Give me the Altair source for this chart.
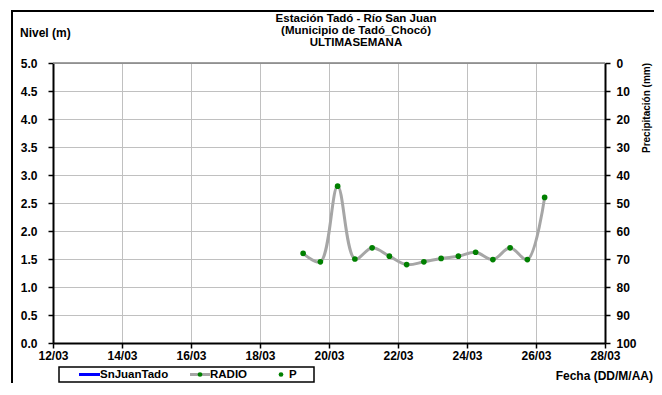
import altair as alt
import pandas as pd

# ---- data ----
fechas = ["2024-03-19T06:00", "2024-03-19T18:00", "2024-03-20T06:00", "2024-03-20T18:00",
          "2024-03-21T06:00", "2024-03-21T18:00", "2024-03-22T06:00", "2024-03-22T18:00",
          "2024-03-23T06:00", "2024-03-23T18:00", "2024-03-24T06:00", "2024-03-24T18:00",
          "2024-03-25T06:00", "2024-03-25T18:00", "2024-03-26T06:00"]
nivel = [1.60, 1.45, 2.80, 1.50, 1.70, 1.55, 1.40, 1.45, 1.51, 1.55, 1.62, 1.49, 1.70, 1.49, 2.60]

y_ticks = [0.0, 0.5, 1.0, 1.5, 2.0, 2.5, 3.0, 3.5, 4.0, 4.5, 5.0]
p_ticks = [0, 10, 20, 30, 40, 50, 60, 70, 80, 90, 100]
x_tick_days = [12, 14, 16, 18, 20, 22, 24, 26, 28]

title_lines = ["Estación Tadó - Río San Juan", "(Municipio de Tadó_Chocó)", "ULTIMASEMANA"]
y_title = "Nivel (m)"
x_title = "Fecha (DD/M/AA)"
p_title = "Precipitación (mm)"
legend_labels = ["SnJuanTado", "RADIO", "P"]

FONT = "Liberation Sans"
W, H = 552, 280

df = pd.DataFrame({"fecha": fechas, "nivel": nivel})
one = pd.DataFrame({"a": [0]})

x_vals = [alt.DateTime(year=2024, month=3, date=d) for d in x_tick_days]
x_dom = [x_vals[0], x_vals[-1]]

x_enc = alt.X("fecha:T", scale=alt.Scale(domain=x_dom),
              axis=alt.Axis(values=x_vals, format="%d/%m", title=None, grid=True,
                            gridColor="#c0c0c0", labelPadding=2, labelFlush=False,
                            labelOverlap=False))
y_enc = alt.Y("nivel:Q", scale=alt.Scale(domain=[0, 5]),
              axis=alt.Axis(values=y_ticks, format=".1f", title=None, grid=True,
                            gridColor="#c0c0c0", labelPadding=11, labelOverlap=False,
                            labelFlush=False))

base = alt.Chart(df)
line = base.mark_line(color="#a6a6a6", strokeWidth=3, interpolate="catmull-rom").encode(x=x_enc, y=y_enc)
pts = base.mark_circle(color="#008000", size=32, opacity=1).encode(x=x_enc, y=y_enc)
top_rule = alt.Chart(one).mark_rule(color="#808080", strokeWidth=1.5).encode(
    x=alt.value(0), x2=alt.value(W), y=alt.value(0))
left = alt.layer(top_rule, line, pts)

right = alt.Chart(pd.DataFrame({"p": p_ticks})).mark_tick(opacity=0).encode(
    y=alt.Y("p:Q", scale=alt.Scale(domain=[0, 100], reverse=True),
            axis=alt.Axis(orient="right", values=p_ticks, title=None, grid=False,
                          labelPadding=6, labelOverlap=False, labelFlush=False)))

def txt(s, x, y, align="center", size=11, angle=0, baseline="middle"):
    kw = dict(align=align, baseline=baseline, font=FONT, fontWeight="bold", fontSize=size, color="black")
    if angle:
        kw["angle"] = angle
    return alt.Chart(one).mark_text(**kw).encode(x=alt.value(x), y=alt.value(y), text=alt.value(s))

texts = [
    txt(title_lines[0], 303, -44, size=11.5),
    txt(title_lines[1], 303, -32, size=11.5),
    txt(title_lines[2], 303, -20, size=11.5),
    txt(y_title, -33, -30, align="left", size=12),
    txt(x_title, 600, 313, align="right", size=12),
    txt(p_title, 594, 45, angle=270, size=10),
]

frame = alt.Chart(one).mark_rect(fill="transparent", stroke="black", strokeWidth=2).encode(
    x=alt.value(-41), x2=alt.value(700), y=alt.value(-52), y2=alt.value(400))

LY = 311.5
leg_box = alt.Chart(one).mark_rect(fill="white", stroke="black", strokeWidth=1.5).encode(
    x=alt.value(6), x2=alt.value(261), y=alt.value(304), y2=alt.value(319))
leg_blue = alt.Chart(one).mark_rule(color="#0000ff", strokeWidth=3).encode(
    x=alt.value(26), x2=alt.value(47), y=alt.value(LY))
leg_gray = alt.Chart(one).mark_rule(color="#a6a6a6", strokeWidth=3).encode(
    x=alt.value(137), x2=alt.value(157), y=alt.value(LY))
leg_dot1 = alt.Chart(one).mark_circle(color="#008000", size=22, opacity=1).encode(
    x=alt.value(147), y=alt.value(LY))
leg_dot2 = alt.Chart(one).mark_circle(color="#008000", size=22, opacity=1).encode(
    x=alt.value(228), y=alt.value(LY))
leg_texts = [
    txt(legend_labels[0], 47, LY, align="left", size=11.5),
    txt(legend_labels[1], 157, LY, align="left", size=11.5),
    txt(legend_labels[2], 236, LY, align="left", size=11.5),
]

chart = alt.layer(
    frame, left, right, *texts, leg_box, leg_blue, leg_gray, leg_dot1, leg_dot2, *leg_texts
).resolve_scale(y="independent").properties(
    width=W, height=H, autosize="none",
    padding={"left": 45, "top": 55, "right": 49, "bottom": 40},
).configure_view(stroke=None).configure_axis(
    domainColor="black", domainWidth=2, tickColor="black", tickSize=5, tickWidth=1.5,
    labelFont=FONT, labelFontWeight="bold", labelFontSize=12, labelColor="black",
)

chart.save("out.html", embed_options={"renderer": "svg", "actions": False})
